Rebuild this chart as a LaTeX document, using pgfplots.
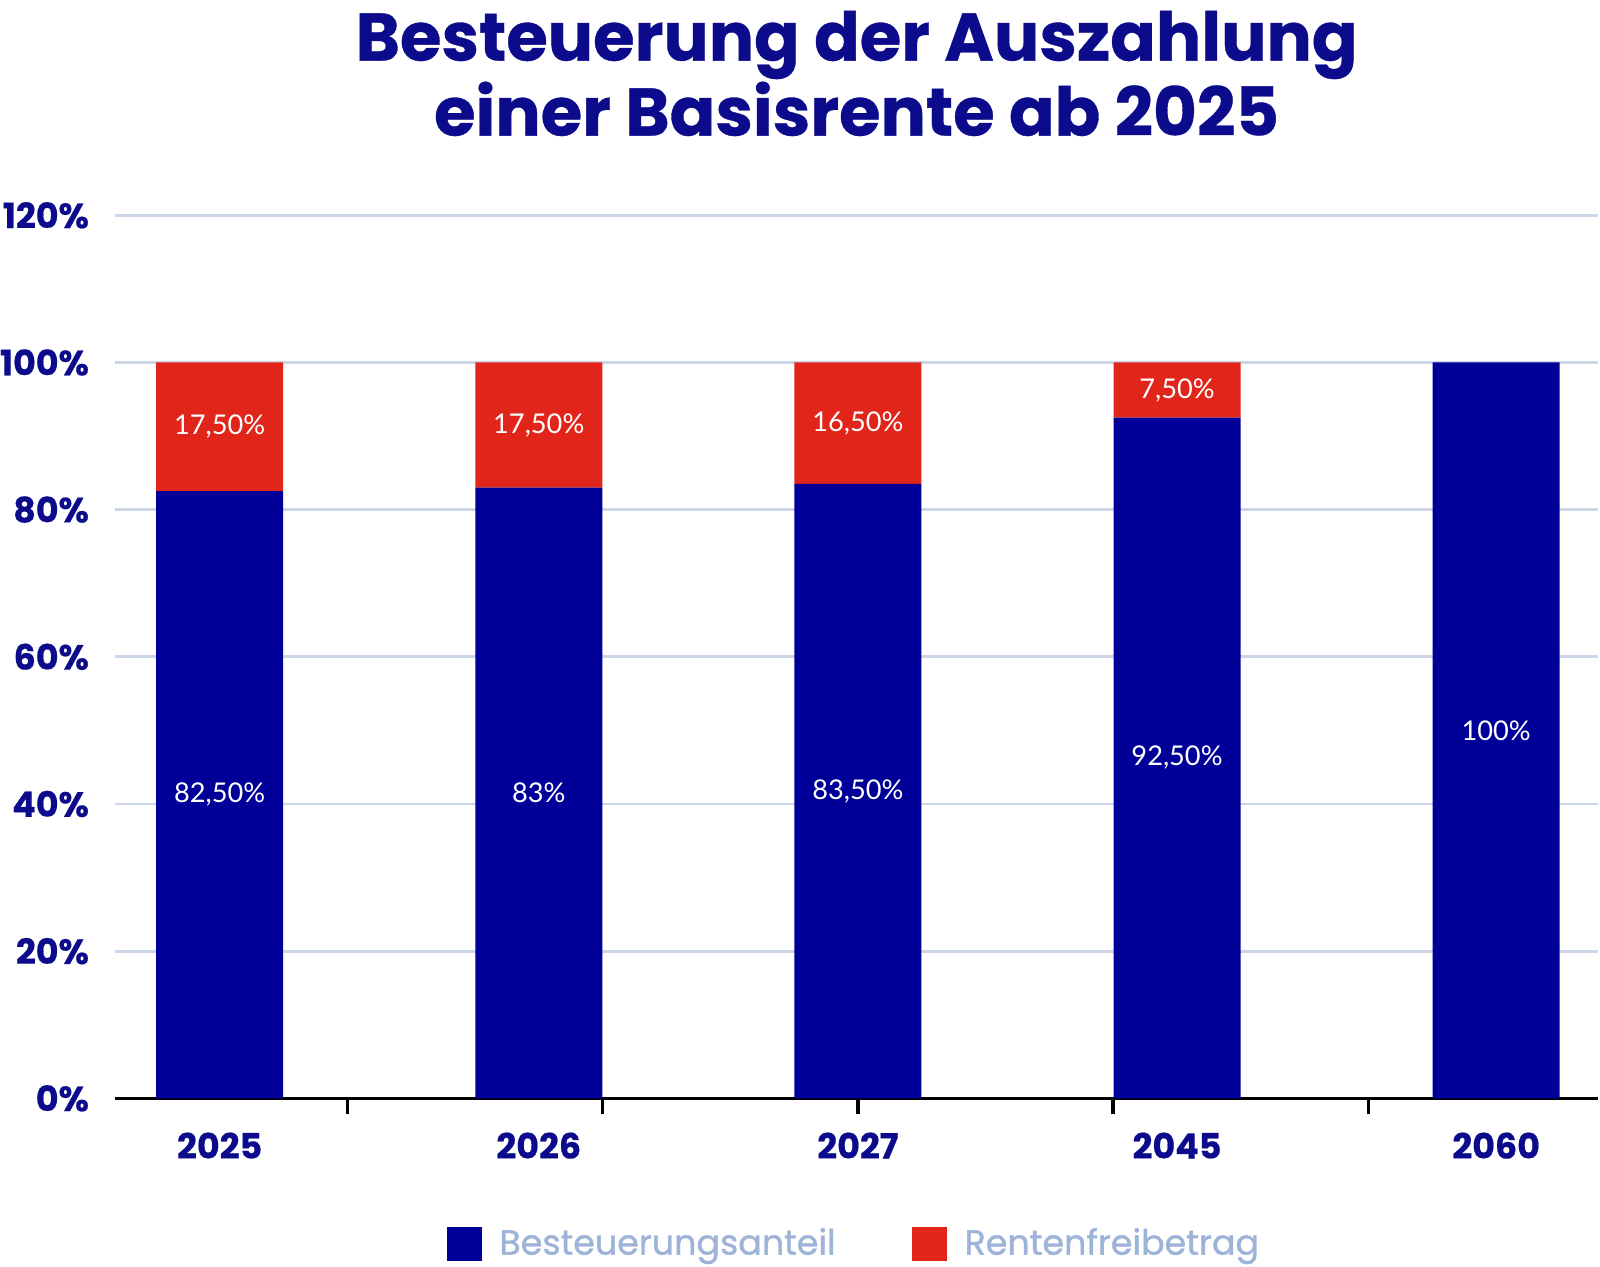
\documentclass[border=0pt]{standalone}
\usepackage{pgfplots}
\pgfplotsset{compat=1.18}
\usepackage{pgfplotstable}
\usepackage{fontspec}
\setmainfont{Poppins}[BoldFeatures={FakeBold=0.5}]
\newfontfamily\lato{Lato}
\newfontfamily\legfont{Poppins}[FakeBold=1.2]
\definecolor{navy}{HTML}{000099}
\definecolor{tnavy}{HTML}{0B0B8C}
\definecolor{rred}{HTML}{E1251B}
\definecolor{legc}{HTML}{9DB3D8}
\definecolor{gridc}{HTML}{CDD6E8}

% values
\pgfplotstableread{
x blue red
0 82.5 17.5
1 83.0 17.0
2 83.5 16.5
3 92.5 7.5
4 100 0
}\data
% label positions (segment centres) and texts
\pgfplotstableread{
x y lab
0 41.25 {82,50\%}
1 41.5 {83\%}
2 41.75 {83,50\%}
3 46.25 {92,50\%}
4 50 {100\%}
0 91.25 {17,50\%}
1 91.5 {17,50\%}
2 91.75 {16,50\%}
3 96.25 {7,50\%}
}\labels

\pgfplotsset{common/.style={
  scale only axis,
  width=14.95cm, height=8.90cm,
  xmin=-0.328, xmax=4.32,
  ymin=0, ymax=120,
}}

\begin{document}
\begin{tikzpicture}
\begin{axis}[common,
  clip=false,
  ybar stacked, bar width=1.28cm,
  axis lines=left,
  axis line style={-},
  y axis line style={draw=none},
  x axis line style={black, line width=1pt},
  ytick={0,20,40,60,80,100,120},
  yticklabels={0\%,20\%,40\%,60\%,80\%,100\%,120\%},
  ytick style={draw=none},
  ymajorgrids, grid style={gridc, line width=0.8pt},
  xtick={0,1,2,3,4},
  xticklabels={2025,2026,2027,2045,2060},
  major x tick style={draw=none},
  minor xtick={0.4,1.2,2.0,2.8,3.6},
  minor x tick style={draw=black, line width=1pt},
  minor tick length=4.5pt,
  tick align=outside,
  tick label style={font=\bfseries\fontsize{10}{11}\selectfont, text=tnavy},
  yticklabel style={inner sep=0pt, xshift=-3pt},
  xticklabel style={yshift=-2pt},
  legend style={at={(0.5,0)}, anchor=north, yshift=-35pt, draw=none, fill=none,
    inner sep=0pt,
    legend columns=-1, font=\legfont\fontsize{10}{12}\selectfont, text=legc,
    /tikz/every even column/.append style={column sep=20pt},
    /tikz/every odd column/.append style={column sep=3pt}},
  legend image code/.code={\path[#1] (0pt,-5pt) rectangle (10pt,5pt);},
]
\addplot[fill=navy, draw=none] table[x=x, y=blue] {\data};
\addplot[fill=rred, draw=none] table[x=x, y=red] {\data};
\legend{Besteuerungsanteil, Rentenfreibetrag}
\node[anchor=south, inner sep=0pt, yshift=22.5pt, align=center, text=tnavy,
  font=\bfseries\fontsize{19.3}{21.5}\selectfont] at (rel axis cs:0.5,1)
  {Besteuerung der Auszahlung\\einer Basisrente ab 2025};
\path (rel axis cs:0.5,1) -- ++(0,2.17cm);
\end{axis}
\begin{axis}[common, hide axis]
\addplot[draw=none, mark=none, nodes near coords, point meta=explicit symbolic,
  every node near coord/.append style={anchor=center, text=white, font=\lato\fontsize{7.8}{9}\selectfont}]
  table[x=x, y=y, meta=lab] {\labels};
\end{axis}
\end{tikzpicture}
\end{document}
